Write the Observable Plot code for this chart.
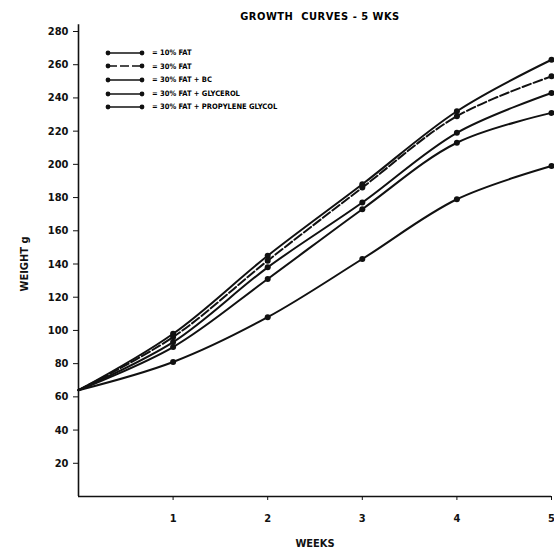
<!DOCTYPE html>
<html>
<head>
<meta charset="utf-8">
<script src="https://cdn.jsdelivr.net/npm/d3@7"></script>
<script src="https://cdn.jsdelivr.net/npm/@observablehq/plot@0.6"></script>
<style>
  body { margin: 0; background: #fff; }
  #wrap { position: relative; width: 554px; height: 560px; font-family: "DejaVu Sans Condensed", "DejaVu Sans", sans-serif; }
  #title { position: absolute; left: 0; width: 640px; top: 10px; text-align: center; font-weight: bold; font-size: 11px; letter-spacing: 0.5px; }
  #legend { position: absolute; left: 104px; top: 46px; font-size: 7.5px; font-weight: bold; line-height: 13.6px; }
  #legend div { display: flex; align-items: center; height: 13.6px; }
  #legend svg { margin-right: 4px; }
</style>
</head>
<body>
<div id="wrap">
  <div id="chart"></div>
  <div id="title">GROWTH&nbsp; CURVES - 5 WKS</div>
  <div id="legend"></div>
</div>
<script>
const weeks = [0, 1, 2, 3, 4, 5];
const seriesNames = ["= 10% FAT", "= 30% FAT", "= 30% FAT + BC", "= 30% FAT + GLYCEROL", "= 30% FAT + PROPYLENE GLYCOL"];
const fat10 = [64, 98, 145, 188, 232, 263];
const fat30 = [64, 96, 142, 186, 229, 253];
const fat30bc = [64, 93, 138, 177, 219, 243];
const fat30glycerol = [64, 90, 131, 173, 213, 231];
const fat30propylene = [64, 81, 108, 143, 179, 199];
const dashes = ["none", "9,3", "none", "none", "none"];
const yTicks = [20, 40, 60, 80, 100, 120, 140, 160, 180, 200, 220, 240, 260, 280];
const xTicks = [1, 2, 3, 4, 5];

const allSeries = [fat10, fat30, fat30bc, fat30glycerol, fat30propylene];
const data = allSeries.flatMap((vals, i) => weeks.map((w, j) => ({week: w, weight: vals[j], series: seriesNames[i]})));

const lineMarks = seriesNames.map((name, i) =>
  Plot.line(data.filter(d => d.series === name), {
    x: "week", y: "weight", curve: "catmull-rom",
    stroke: "#111", strokeWidth: 2, strokeDasharray: dashes[i]
  })
);

const chart = Plot.plot({
  width: 554,
  height: 560,
  marginLeft: 78,
  marginRight: 3,
  marginTop: 31,
  marginBottom: 64,
  style: {fontFamily: "'DejaVu Sans Condensed', 'DejaVu Sans', sans-serif", fontWeight: "bold", fontSize: "11px", color: "#111", background: "#fff"},
  x: {domain: [0, 5]},
  y: {domain: [0, 280]},
  marks: [
    Plot.ruleX([0], {stroke: "#111", strokeWidth: 1.6, y1: 0, y2: 284}),
    Plot.ruleY([0], {stroke: "#111", strokeWidth: 1.6}),
    Plot.axisX({ticks: xTicks, tickFormat: d => String(d), tickSize: 4, tickPadding: 14, label: "WEEKS", labelAnchor: "center", labelArrow: "none", labelOffset: 50, fontWeight: "bold"}),
    Plot.axisY({ticks: yTicks, tickFormat: d => String(d), tickSize: 5, tickPadding: 5, label: "WEIGHT g", labelAnchor: "center", labelArrow: "none", labelOffset: 58, fontWeight: "bold"}),
    ...lineMarks,
    Plot.dot(data.filter(d => d.week > 0), {x: "week", y: "weight", r: 3, fill: "#111", stroke: "none"})
  ]
});
document.getElementById("chart").appendChild(chart);

// legend
const legend = document.getElementById("legend");
seriesNames.forEach((name, i) => {
  const row = document.createElement("div");
  const dash = dashes[i] === "none" ? "" : ` stroke-dasharray="${dashes[i]}"`;
  row.innerHTML = `<svg width="44" height="8"><line x1="4" y1="4" x2="38" y2="4" stroke="#111" stroke-width="1.6"${dash}/><circle cx="4" cy="4" r="2.4" fill="#111"/><circle cx="38" cy="4" r="2.4" fill="#111"/></svg><span>${name}</span>`;
  legend.appendChild(row);
});
</script>
</body>
</html>
